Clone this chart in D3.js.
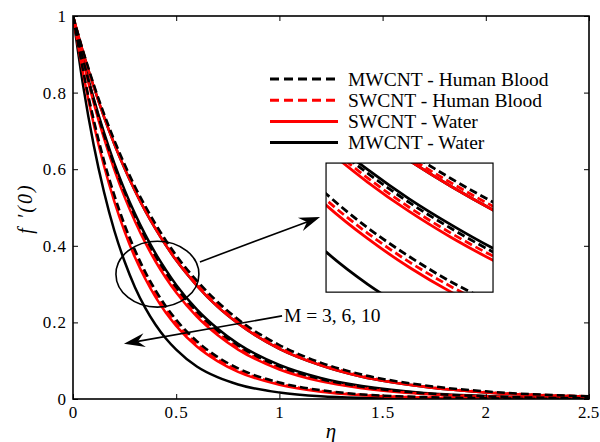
<!DOCTYPE html>
<html>
<head>
<meta charset="utf-8">
<script src="https://cdn.jsdelivr.net/npm/d3@7"></script>
<style>
  body { margin: 0; background: #fff; }
  svg { display: block; }
</style>
</head>
<body>
<svg id="chart" width="600" height="442"></svg>
<script>
'use strict';

var eta = [0, 0.05, 0.1, 0.15, 0.2, 0.25, 0.3, 0.35, 0.4, 0.45, 0.5, 0.6, 0.7, 0.8, 1.0, 1.2, 1.4, 1.7, 2.0, 2.5];

// M = 3
var mwBloodM3 = [1.000, 0.907, 0.822, 0.745, 0.676, 0.613, 0.555, 0.504, 0.457, 0.414, 0.375, 0.309, 0.254, 0.208, 0.141, 0.095, 0.064, 0.036, 0.020, 0.007];
var swBloodM3 = [1.000, 0.905, 0.819, 0.741, 0.670, 0.607, 0.549, 0.497, 0.449, 0.407, 0.368, 0.301, 0.247, 0.202, 0.135, 0.091, 0.061, 0.033, 0.018, 0.007];
var swWaterM3 = [1.000, 0.903, 0.816, 0.737, 0.666, 0.602, 0.544, 0.491, 0.444, 0.401, 0.362, 0.296, 0.241, 0.197, 0.131, 0.088, 0.058, 0.032, 0.017, 0.006];
var mwWaterM3 = [1.000, 0.903, 0.816, 0.737, 0.666, 0.602, 0.544, 0.491, 0.444, 0.401, 0.362, 0.296, 0.241, 0.197, 0.131, 0.088, 0.058, 0.032, 0.017, 0.006];
// M = 6
var mwWaterM6 = [1.000, 0.886, 0.785, 0.696, 0.616, 0.546, 0.484, 0.429, 0.380, 0.337, 0.298, 0.234, 0.184, 0.144, 0.089, 0.055, 0.034, 0.016, 0.008, 0.002];
var mwBloodM6 = [1.000, 0.884, 0.782, 0.691, 0.611, 0.541, 0.478, 0.423, 0.374, 0.331, 0.292, 0.229, 0.179, 0.140, 0.085, 0.052, 0.032, 0.015, 0.007, 0.002];
var swBloodM6 = [1.000, 0.882, 0.778, 0.686, 0.605, 0.534, 0.471, 0.415, 0.366, 0.323, 0.285, 0.222, 0.173, 0.134, 0.081, 0.049, 0.030, 0.014, 0.007, 0.002];
var swWaterM6 = [1.000, 0.880, 0.774, 0.681, 0.599, 0.527, 0.464, 0.408, 0.359, 0.316, 0.278, 0.215, 0.167, 0.129, 0.077, 0.046, 0.028, 0.013, 0.006, 0.002];
// M = 10
var mwBloodM10 = [1.000, 0.854, 0.730, 0.623, 0.533, 0.455, 0.389, 0.332, 0.284, 0.242, 0.207, 0.151, 0.110, 0.080, 0.043, 0.023, 0.012, 0.005, 0.002, 0.000];
var swBloodM10 = [1.000, 0.851, 0.724, 0.616, 0.524, 0.446, 0.379, 0.323, 0.275, 0.234, 0.199, 0.144, 0.104, 0.075, 0.040, 0.021, 0.011, 0.004, 0.002, 0.000];
var swWaterM10 = [1.000, 0.847, 0.718, 0.609, 0.516, 0.437, 0.370, 0.314, 0.266, 0.225, 0.191, 0.137, 0.099, 0.071, 0.037, 0.019, 0.010, 0.004, 0.001, 0.000];
var mwWaterM10 = [1.000, 0.815, 0.664, 0.541, 0.440, 0.359, 0.292, 0.238, 0.194, 0.158, 0.129, 0.085, 0.057, 0.038, 0.017, 0.007, 0.003, 0.001, 0.000, 0.000];

var legendLabels = ['MWCNT - Human Blood', 'SWCNT - Human Blood', 'SWCNT - Water', 'MWCNT - Water'];
var xTicks = [0, 0.5, 1, 1.5, 2, 2.5];
var yTicks = [0, 0.2, 0.4, 0.6, 0.8, 1];

// fluid index -> legend entry
var series = [
  { values: mwWaterM3, fluid: 3 }, { values: mwWaterM6, fluid: 3 }, { values: mwWaterM10, fluid: 3 },
  { values: swWaterM3, fluid: 2 }, { values: swWaterM6, fluid: 2 }, { values: swWaterM10, fluid: 2 },
  { values: swBloodM3, fluid: 1 }, { values: swBloodM6, fluid: 1 }, { values: swBloodM10, fluid: 1 },
  { values: mwBloodM3, fluid: 0 }, { values: mwBloodM6, fluid: 0 }, { values: mwBloodM10, fluid: 0 }
];
var colors = ['#000', '#f00', '#f00', '#000'];
var dashes = ['8,4', '8,4', null, null];
var serif = "'Liberation Serif'";

var margin = { left: 73, right: 11, top: 16, bot: 43 };
var width = 600, height = 442;

var svg = d3.select('#chart');
var x = d3.scaleLinear().domain([0, 2.5]).range([margin.left, width - margin.right]);
var y = d3.scaleLinear().domain([0, 1]).range([height - margin.bot, margin.top]);

svg.append('defs').append('clipPath').attr('id', 'plotClip')
  .append('rect')
  .attr('x', x(0)).attr('y', y(1))
  .attr('width', x(2.5) - x(0)).attr('height', y(0) - y(1));

function makeLine(xs, ys) {
  return d3.line()
    .x(function(d, i) { return xs(eta[i]); })
    .y(function(d) { return ys(d); })
    .curve(d3.curveMonotoneX);
}

function drawCurves(g, xs, ys, w) {
  var line = makeLine(xs, ys);
  g.selectAll('path.curve').data(series).enter().append('path')
    .attr('class', 'curve')
    .attr('d', function(d) { return line(d.values); })
    .attr('fill', 'none')
    .attr('stroke', function(d) { return colors[d.fluid]; })
    .attr('stroke-width', w)
    .attr('stroke-dasharray', function(d) { return dashes[d.fluid]; });
}

// main curves
drawCurves(svg.append('g').attr('clip-path', 'url(#plotClip)'), x, y, 2.5);

// axes, ticks pointing inward on all four sides
var fmt = function(d) { return String(d); };
var axisStyle = function(g) {
  g.selectAll('.domain').remove();
  g.selectAll('line').attr('stroke', '#000').attr('stroke-width', 1);
  g.selectAll('text')
    .style('font-family', serif).style('font-size', '17px')
    .style('letter-spacing', '1px').style('fill', '#000');
};
var xAxisG = svg.append('g').attr('transform', 'translate(0,' + y(0) + ')')
  .call(d3.axisBottom(x).tickValues(xTicks).tickFormat(fmt).tickSize(-5).tickPadding(7))
  .call(axisStyle);
// last label sits at the page edge: keep it inside
xAxisG.selectAll('text').filter(function(d) { return d === 2.5; })
  .style('letter-spacing', '0px').attr('x', -1);
svg.append('g').attr('transform', 'translate(' + x(0) + ',0)')
  .call(d3.axisLeft(y).tickValues(yTicks).tickFormat(fmt).tickSize(-5).tickPadding(6))
  .call(axisStyle);
svg.append('g').attr('transform', 'translate(0,' + y(1) + ')')
  .call(d3.axisTop(x).tickValues(xTicks).tickFormat('').tickSize(-5))
  .call(axisStyle);
svg.append('g').attr('transform', 'translate(' + x(2.5) + ',0)')
  .call(d3.axisRight(y).tickValues(yTicks).tickFormat('').tickSize(-5))
  .call(axisStyle);

svg.append('rect')
  .attr('x', x(0)).attr('y', y(1))
  .attr('width', x(2.5) - x(0)).attr('height', y(0) - y(1))
  .attr('fill', 'none').attr('stroke', '#000').attr('stroke-width', 1.6);

// axis titles
svg.append('text')
  .attr('transform', 'translate(32,' + ((y(0) + y(1)) / 2 + 1) + ') rotate(-90)')
  .attr('text-anchor', 'middle')
  .style('font-family', serif).style('font-size', '20px')
  .style('font-style', 'italic').style('letter-spacing', '2px')
  .text('f \u2032(0)');
svg.append('text')
  .attr('x', (x(0) + x(2.5)) / 2).attr('y', 438)
  .attr('text-anchor', 'middle')
  .style('font-family', serif).style('font-size', '21px').style('font-style', 'italic')
  .text('\u03b7');

// legend
var legend = svg.append('g').attr('transform', 'translate(270,79)');
var rows = legend.selectAll('g').data(legendLabels).enter().append('g')
  .attr('transform', function(d, i) { return 'translate(0,' + (i * 21.2) + ')'; });
rows.append('line')
  .attr('x1', 0).attr('x2', 68).attr('y1', 0).attr('y2', 0)
  .attr('stroke', function(d, i) { return colors[i]; })
  .attr('stroke-width', 3)
  .attr('stroke-dasharray', function(d, i) { return dashes[i] ? '9,5' : null; });
rows.append('text')
  .attr('x', 78).attr('y', 6.5)
  .style('font-family', serif).style('font-size', '19.5px')
  .text(function(d) { return d; });

// ellipse marking the magnified region
var ell = { cx: 0.409, cy: 0.326, rx: 0.201, ry: 0.086 };
svg.append('ellipse')
  .attr('cx', x(ell.cx)).attr('cy', y(ell.cy))
  .attr('rx', x(ell.rx) - x(0)).attr('ry', y(0) - y(ell.ry))
  .attr('fill', 'none').attr('stroke', '#000').attr('stroke-width', 1.6);

function drawArrow(x1, y1, x2, y2) {
  var ang = Math.atan2(y2 - y1, x2 - x1);
  var len = 21, half = 7, notch = 14;
  var c = Math.cos(ang), s = Math.sin(ang);
  var bx = x2 - len * c, by = y2 - len * s;
  var nx = x2 - notch * c, ny = y2 - notch * s;
  svg.append('line')
    .attr('x1', x1).attr('y1', y1).attr('x2', nx).attr('y2', ny)
    .attr('stroke', '#000').attr('stroke-width', 1.6);
  svg.append('path')
    .attr('d', 'M' + x2 + ',' + y2 +
      'L' + (bx - half * s) + ',' + (by + half * c) +
      'L' + nx + ',' + ny +
      'L' + (bx + half * s) + ',' + (by - half * c) + 'Z')
    .attr('fill', '#000');
}
drawArrow(x(0.615), y(0.358), x(1.197), y(0.475));
drawArrow(x(1.013), y(0.217), x(0.247), y(0.144));

svg.append('text')
  .attr('x', x(1.022)).attr('y', y(0.217) + 6.5)
  .style('font-family', serif).style('font-size', '19.5px')
  .text('M = 3, 6, 10');

// inset: magnified view of the circled region
var inset = { x0: x(1.226), x1: x(2.035), y0: y(0.616), y1: y(0.279) };
var ix = d3.scaleLinear().domain([0.30, 0.50]).range([inset.x0, inset.x1]);
var iy = d3.scaleLinear().domain([0.225, 0.44]).range([inset.y1, inset.y0]);
svg.select('defs').append('clipPath').attr('id', 'insetClip')
  .append('rect')
  .attr('x', inset.x0).attr('y', inset.y0)
  .attr('width', inset.x1 - inset.x0).attr('height', inset.y1 - inset.y0);
svg.append('rect')
  .attr('x', inset.x0).attr('y', inset.y0)
  .attr('width', inset.x1 - inset.x0).attr('height', inset.y1 - inset.y0)
  .attr('fill', '#fff');
drawCurves(svg.append('g').attr('clip-path', 'url(#insetClip)'), ix, iy, 2.8);
svg.append('rect')
  .attr('x', inset.x0).attr('y', inset.y0)
  .attr('width', inset.x1 - inset.x0).attr('height', inset.y1 - inset.y0)
  .attr('fill', 'none').attr('stroke', '#000').attr('stroke-width', 1.2);
</script>
</body>
</html>
